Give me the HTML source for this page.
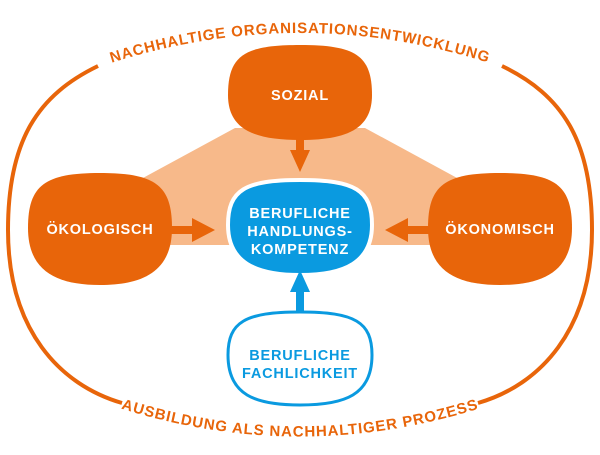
<!DOCTYPE html><html><head><style>body{margin:0;background:#fff}svg{display:block}text{font-family:"Liberation Sans",sans-serif;font-weight:bold}</style></head><body>
<svg width="600" height="455" viewBox="0 0 600 455" xmlns="http://www.w3.org/2000/svg">
<defs>
<path id="tp" d="M90,70 Q300,-4 510,70"/>
<path id="bp" d="M110,405 Q300,468 490,405"/>
</defs>
<g fill="none" stroke="#e8650a" stroke-width="4">
<path d="M98,66 C38,95 8,140 8,230 C8,330 60,385 122,403"/>
<path d="M502,66 C562,95 592,140 592,230 C592,330 540,385 478,403"/>
</g>
<text font-size="15" fill="#e8650a" letter-spacing="0.9"><textPath href="#tp" startOffset="50%" text-anchor="middle">NACHHALTIGE ORGANISATIONSENTWICKLUNG</textPath></text>
<text font-size="15" fill="#e8650a" letter-spacing="0.9"><textPath href="#bp" startOffset="50%" text-anchor="middle">AUSBILDUNG ALS NACHHALTIGER PROZESS</textPath></text>
<polygon points="235,128 365,128 470,185 440,245 160,245 130,185" fill="#f7b98a"/>
<g fill="#e8650a">
<path d="M300,45 C355,45 372,55 372,95 C372,130 345,140 300,140 C255,140 228,130 228,95 C228,55 245,45 300,45Z"/>
<path d="M100,173 C155,173 172,185 172,228 C172,270 145,285 100,285 C55,285 28,270 28,228 C28,185 45,173 100,173Z"/>
<path d="M500,173 C555,173 572,185 572,228 C572,270 545,285 500,285 C455,285 428,270 428,228 C428,185 445,173 500,173Z"/>
<rect x="296" y="138" width="8" height="14"/><polygon points="290,150 310,150 300,172"/>
<rect x="170" y="226" width="24" height="8"/><polygon points="192,218 192,242 215,230"/>
<rect x="406" y="226" width="24" height="8"/><polygon points="408,218 408,242 385,230"/>
</g>
<path d="M300,180 C355,180 372,190 372,225 C372,262 345,275 300,275 C255,275 228,262 228,225 C228,190 245,180 300,180Z" fill="#0a9ae0" stroke="#fff" stroke-width="4"/>
<path d="M300,312 C355,312 372,322 372,355 C372,395 345,405 300,405 C255,405 228,395 228,355 C228,322 245,312 300,312Z" fill="#fff" stroke="#0a9ae0" stroke-width="3"/>
<rect x="296" y="290" width="8" height="22" fill="#0a9ae0"/><polygon points="290,292 310,292 300,270" fill="#0a9ae0"/>
<g font-size="14.5" fill="#fff" text-anchor="middle" letter-spacing="0.8">
<text x="300" y="100">SOZIAL</text>
<text x="100" y="234">ÖKOLOGISCH</text>
<text x="500" y="234">ÖKONOMISCH</text>
<text x="300" y="218">BERUFLICHE</text>
<text x="300" y="236">HANDLUNGS-</text>
<text x="300" y="254">KOMPETENZ</text>
</g>
<g font-size="14.5" fill="#0a9ae0" text-anchor="middle" letter-spacing="0.8">
<text x="300" y="360">BERUFLICHE</text>
<text x="300" y="378">FACHLICHKEIT</text>
</g>
</svg></body></html>
